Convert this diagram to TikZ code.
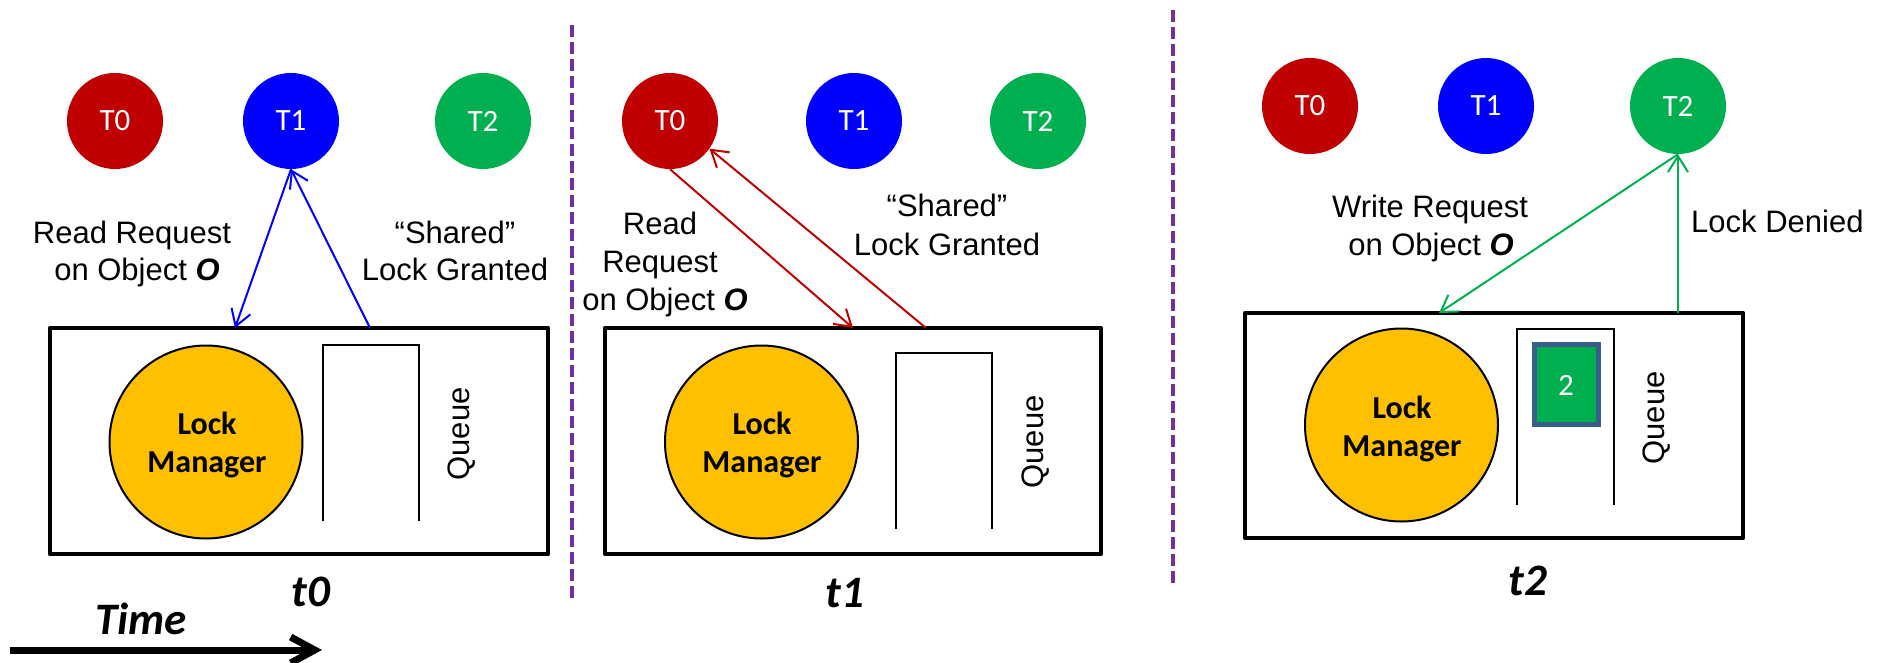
\documentclass[tikz,border=0pt]{standalone}
\usepackage{fontspec}
\setmainfont{Liberation Sans}
\newfontfamily\calfont{Carlito}
\usetikzlibrary{arrows.meta}
\definecolor{cred}{HTML}{C00000}
\definecolor{cblue}{HTML}{0000FF}
\definecolor{cgreen}{HTML}{00B050}
\definecolor{cyellow}{HTML}{FFC000}
\definecolor{cpurple}{HTML}{7030A0}
\definecolor{cqborder}{HTML}{385D8A}
\tikzset{
  tcirc/.style={circle, minimum size=96pt, inner sep=0pt, text=white, font=\calfont\fontsize{31}{37}\selectfont},
  lmcirc/.style={circle, draw=black, line width=2pt, fill=cyellow, minimum size=193pt, inner sep=0pt},
  lmtext/.style={anchor=base, inner sep=0pt, font=\calfont\bfseries\fontsize{32}{38}\selectfont},
  lbl/.style={anchor=base, inner sep=0pt, font=\fontsize{31}{37}\selectfont},
  qtext/.style={rotate=90, inner sep=0pt, font=\fontsize{31}{37}\selectfont},
  tlabel/.style={inner sep=0pt, font=\calfont\bfseries\itshape\fontsize{45}{50}\selectfont},
  mainbox/.style={draw=black, line width=4.5pt, line join=round},
  queuebox/.style={draw=black, line width=2pt},
  sep/.style={draw=cpurple, line width=4pt, dash pattern=on 12pt off 5pt},
  conn/.style={line width=2pt, -{Straight Barb[length=16pt,width=20pt]}},
}
\begin{document}
\begin{tikzpicture}[x=1pt,y=-1pt]
\useasboundingbox (0,0) rectangle (1877,662);
\fill[white] (0,0) rectangle (1877,662);

% separators
\coordinate (s1a) at (572,25); \coordinate (s1b) at (572,600);
\coordinate (s2a) at (1173,10); \coordinate (s2b) at (1173,585);
\draw[sep] (s1a) -- (s1b);
\draw[sep] (s2a) -- (s2b);

% ---------------- Panel t0 ----------------
\node[tcirc, fill=cred]   (aT0) at (115,121) {T0};
\node[tcirc, fill=cblue]  (aT1) at (291,121) {T1};
\node[tcirc, fill=cgreen] (aT2) at (483,121) {T2};
\draw[mainbox] (50,328) rectangle (548,554);
\node[lmcirc] (aLM) at (206,442) {};
\node[lmtext] (aLM1) at (207,434) {Lock};
\node[lmtext] (aLM2) at (207,472) {Manager};
\draw[queuebox] (323,521) -- (323,345) -- (419,345) -- (419,521);
\node[qtext] (aQ) at (462,434) {Queue};
\node[lbl] (aR1) at (132,243) {Read Request};
\node[lbl] (aR2) at (137,280) {on Object \textbf{\textit{O}}};
\node[lbl] (aS1) at (455,243) {“Shared”};
\node[lbl] (aS2) at (455,280) {Lock Granted};
\coordinate (aIn) at (235,328);
\coordinate (aOut) at (370,328);
\draw[conn, cblue] (aT1.south) -- (aIn);
\draw[conn, cblue] (aOut) -- (aT1.south);
\node[tlabel] (at0) at (311,592) {t0};
\node[tlabel] (time) at (141,619) {Time};
\coordinate (tA) at (10,650); \coordinate (tB) at (322,650);
\draw[line width=7pt, -{Straight Barb[length=24pt,width=26pt]}] (tA) -- (tB);

% ---------------- Panel t1 ----------------
\node[tcirc, fill=cred]   (bT0) at (670,121) {T0};
\node[tcirc, fill=cblue]  (bT1) at (854,121) {T1};
\node[tcirc, fill=cgreen] (bT2) at (1038,121) {T2};
\draw[mainbox] (605,328) rectangle (1101,554);
\node[lmcirc] (bLM) at (761.5,442) {};
\node[lmtext] (bLM1) at (762,434) {Lock};
\node[lmtext] (bLM2) at (762,472) {Manager};
\draw[queuebox] (896,529) -- (896,353) -- (992,353) -- (992,529);
\node[qtext] (bQ) at (1036,442) {Queue};
\node[lbl] (bR1) at (660,234) {Read};
\node[lbl] (bR2) at (660,272) {Request};
\node[lbl] (bR3) at (665,310) {on Object \textbf{\textit{O}}};
\node[lbl] (bS1) at (947,216) {“Shared”};
\node[lbl] (bS2) at (947,255) {Lock Granted};
\coordinate (bIn) at (853,328);
\coordinate (bOut) at (926,328);
\draw[conn, cred] (bT0.south) -- (bIn);
\draw[conn, cred] (bOut) -- (bT0.-35);
\node[tlabel] (bt1) at (845,593) {t1};

% ---------------- Panel t2 ----------------
\node[tcirc, fill=cred]   (cT0) at (1310,106) {T0};
\node[tcirc, fill=cblue]  (cT1) at (1486,106) {T1};
\node[tcirc, fill=cgreen] (cT2) at (1678,106) {T2};
\draw[mainbox] (1245,313) rectangle (1743,538);
\node[lmcirc] (cLM) at (1401.5,425) {};
\node[lmtext] (cLM1) at (1402,418) {Lock};
\node[lmtext] (cLM2) at (1402,456) {Manager};
\draw[queuebox] (1517,505) -- (1517,329) -- (1614,329) -- (1614,505);
\draw[draw=cqborder, fill=cgreen, line width=5pt] (1534.5,344.5) rectangle (1598.5,424.5);
\node[inner sep=0pt, text=white, font=\calfont\fontsize{31}{37}\selectfont] (cItem) at (1566,385) {2};
\node[qtext] (cQ) at (1657,418) {Queue};
\node[lbl] (cW1) at (1430,217) {Write Request};
\node[lbl] (cW2) at (1431,255) {on Object \textbf{\textit{O}}};
\node[lbl, anchor=base west] (cD) at (1691,232) {Lock Denied};
\coordinate (cIn) at (1439,313);
\coordinate (cOut) at (1678,313);
\draw[conn, cgreen] (cT2.south) -- (cIn);
\draw[conn, cgreen] (cOut) -- (cT2.south);
\node[tlabel] (ct2) at (1528,581) {t2};
\end{tikzpicture}
\end{document}
